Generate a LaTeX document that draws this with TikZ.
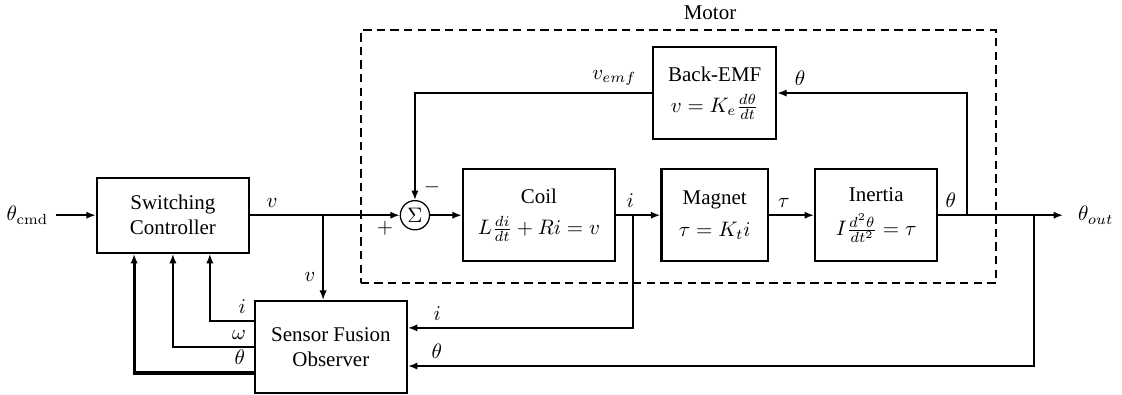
\documentclass[tikz,border=0pt]{standalone}
\usepackage[no-math]{fontspec}
\setmainfont{Liberation Serif}
\usetikzlibrary{positioning, arrows.meta, calc}

\begin{document}
\begin{tikzpicture}[
    block/.style={draw, line width=1.1pt, align=center,
      minimum width=2.55cm, minimum height=1.54cm},
    summer/.style={draw, circle, line width=0.6pt, inner sep=0pt, minimum size=0.49cm},
    wire/.style={line width=0.8pt},
    sig/.style={-{Latex[length=4.5pt, width=3.5pt]}, line width=0.8pt},
    motorbox/.style={draw, line width=0.9pt, dash pattern=on 4pt off 2.5pt,
      minimum width=10.65cm, minimum height=4.24cm}]
  \useasboundingbox (0,-3.00) rectangle (18.82,3.61);
  % motor boundary
  \node[motorbox] (motor) at (11.375,0.98) {};
  \node (motorlbl) at (11.91,3.40) {Motor};
  % blocks
  \node (cmd) at (0.46,0) {$\theta_{\mathrm{cmd}}$};
  \node[block, minimum height=1.26cm] (ctrl) at (2.90,0) {Switching\\Controller};
  \node[summer, right=2.51cm of ctrl] (sum) {$\Sigma$};
  \node[block, right=0.53cm of sum] (coil) {Coil\\[3pt]$L\frac{di}{dt}+Ri=v$};
  \node[block, minimum width=1.79cm, right=0.74cm of coil] (magnet) {Magnet\\[3pt]$\tau=K_t i$};
  \node[block, minimum width=2.05cm, right=0.75cm of magnet] (inertia) {Inertia\\[4pt]$I\frac{d^2\theta}{dt^2}=\tau$};
  \node[block, minimum width=2.06cm, above=0.47cm of magnet] (backemf) {Back-EMF\\[3pt]$v=K_e\frac{d\theta}{dt}$};
  \node[block] (obs) at (5.55,-2.21) {Sensor Fusion\\Observer};
  \node[anchor=west, inner xsep=7pt] (thout) at (17.83,0) {$\theta_{out}$};
  \node (plus) at ($(sum)+(-0.50,-0.22)$) {$+$};
  \node (minus) at ($(sum)+(0.285,0.47)$) {$-$};
  % branch points
  \coordinate (vsplit) at (5.42,0);
  \coordinate (isplit) at (10.62,0);
  \coordinate (fbemf) at (16.22,0);
  \coordinate (fbobs) at (17.34,0);
  % forward path
  \draw[sig] (cmd) -- (ctrl);
  \draw[wire] (ctrl) -- node[above, pos=0.3] {$v$} (vsplit);
  \draw[sig] (vsplit) -- (sum);
  \draw[sig] (vsplit) -- node[left, pos=0.73] {$v$} (vsplit |- obs.north);
  \draw[sig] (sum) -- (coil);
  \draw[sig] (coil) -- node[above, pos=0.32] {$i$} (magnet);
  \draw[sig] (magnet) -- node[above, pos=0.33] {$\tau$} (inertia);
  \draw[sig] (inertia) -- node[above, pos=0.1] {$\theta$} (thout);
  % feedback loops
  \draw[sig] (fbemf) |- node[above, pos=0.94] {$\theta$} (backemf);
  \draw[sig] (backemf) -| node[above, pos=0.08] {$v_{emf}$} (sum);
  \draw[sig] (isplit) |- node[above, pos=0.935] {$i$} ([yshift=0.32cm]obs.east);
  \draw[sig] (fbobs) |- node[above, pos=0.977] {$\theta$} ([yshift=-0.32cm]obs.east);
  % observer estimates
  \draw[sig] ([yshift=0.436cm]obs.west) node[above left] {$i$} -| ([xshift=0.62cm]ctrl.south);
  \draw[sig] (obs.west) node[above left] {$\omega$} -| (ctrl.south);
  \draw[sig, line width=1.5pt] ([yshift=-0.436cm]obs.west) node[above left] {$\theta$} -| ([xshift=-0.65cm]ctrl.south);
\end{tikzpicture}
\end{document}
